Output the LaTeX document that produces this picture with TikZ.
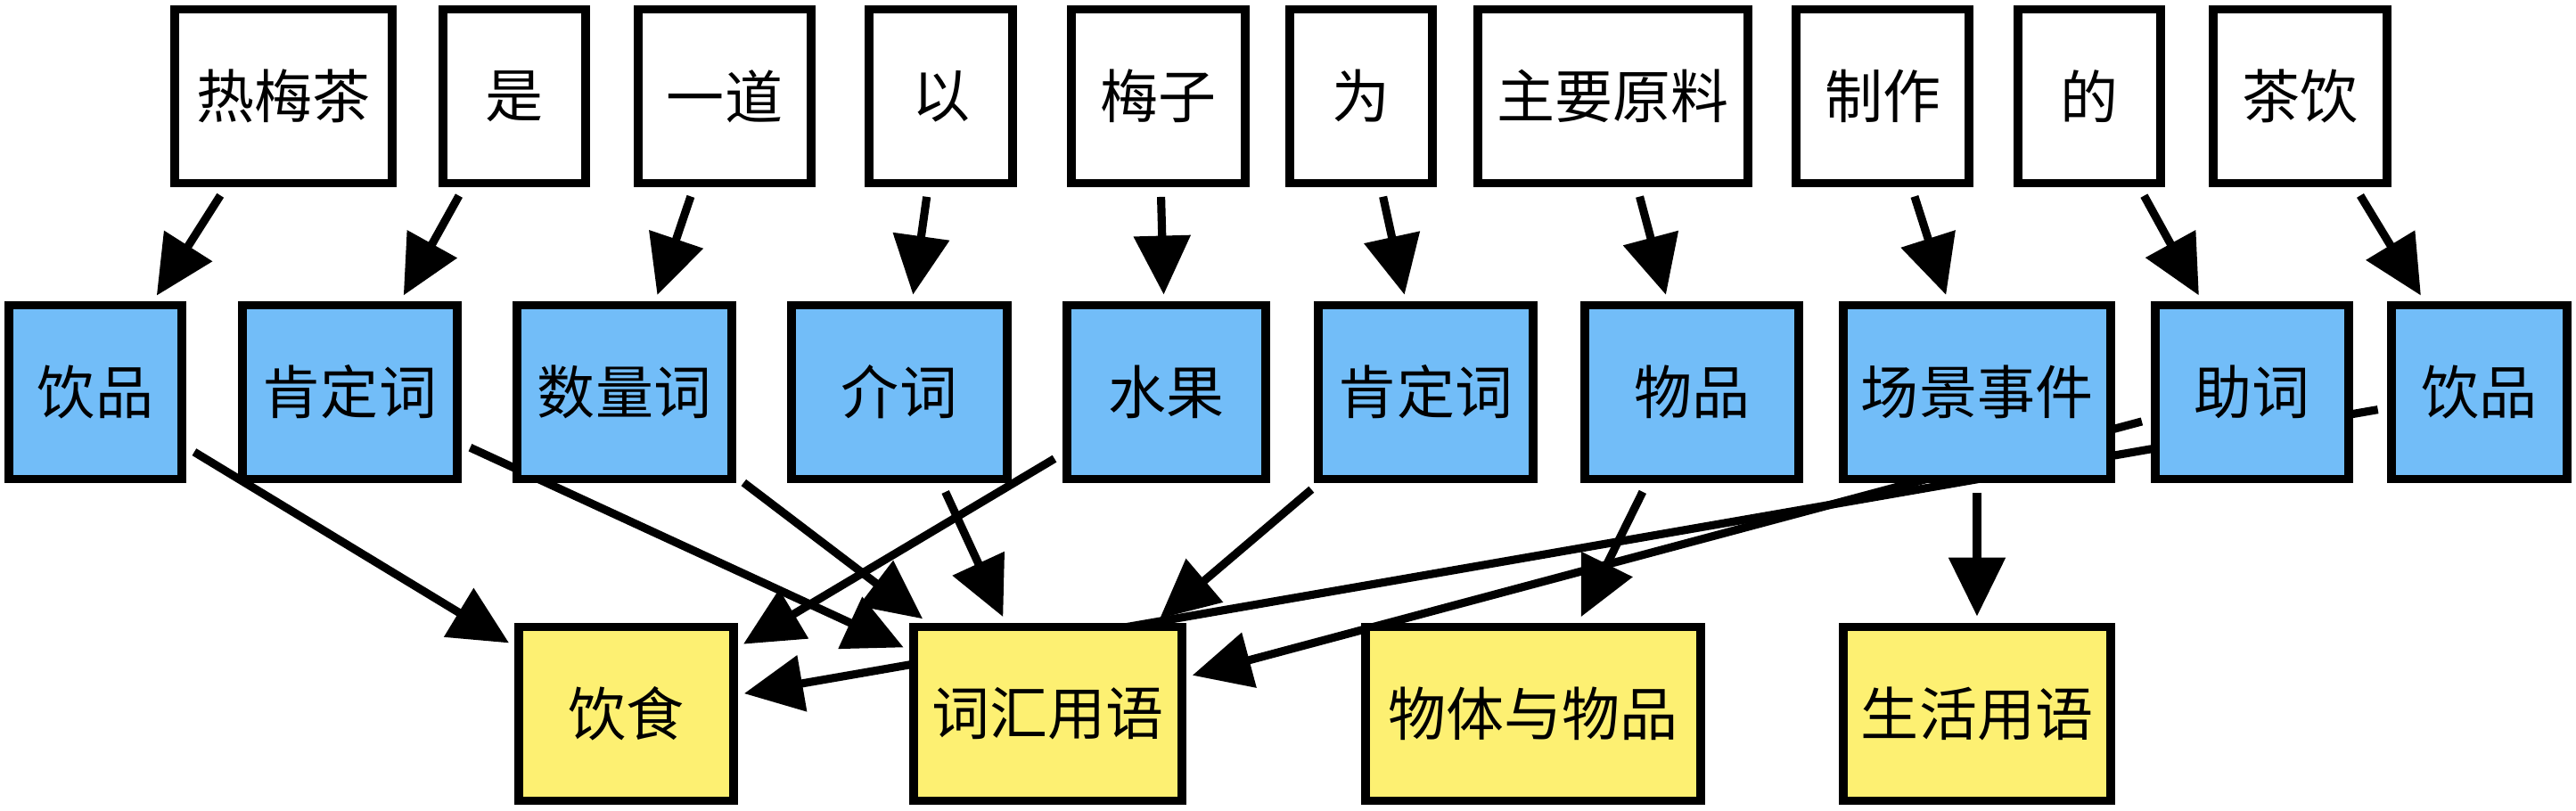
\documentclass[tikz,border=0pt]{standalone}
\usepackage{fontspec}
\newfontfamily\cjk{Noto Sans CJK SC}
\usetikzlibrary{arrows.meta,backgrounds}
\definecolor{tagblue}{RGB}{114,189,248}
\definecolor{catyellow}{RGB}{253,240,114}
\begin{document}
\begin{tikzpicture}[
  box/.style={draw=black, line width=2.8pt, minimum height=1.95cm, inner sep=0pt, font=\cjk\fontsize{18.5}{22}\selectfont},
  word/.style={box, fill=white},
  tag/.style={box, fill=tagblue},
  cat/.style={box, fill=catyellow},
  arr/.style={line width=2.6pt, -{Triangle[length=6.6mm,width=6.2mm]}, shorten <=3pt, shorten >=2pt}
]
\useasboundingbox (0,0) rectangle (28.9,9.1);

% words
\path (3.18,8.02) node[word, minimum width=2.44cm] (w1) {热梅茶};
\path (5.77,8.02) node[word, minimum width=1.60cm] (w2) {是};
\path (8.13,8.02) node[word, minimum width=1.94cm] (w3) {一道};
\path (10.555,8.02) node[word, minimum width=1.61cm] (w4) {以};
\path (12.995,8.02) node[word, minimum width=1.95cm] (w5) {梅子};
\path (15.27,8.02) node[word, minimum width=1.60cm] (w6) {为};
\path (18.095,8.02) node[word, minimum width=3.03cm] (w7) {主要原料};
\path (21.12,8.02) node[word, minimum width=1.94cm] (w8) {制作};
\path (23.44,8.02) node[word, minimum width=1.60cm] (w9) {的};
\path (25.805,8.02) node[word, minimum width=1.95cm] (w10) {茶饮};

% tags
\path (1.07,4.70) node[tag, minimum width=1.94cm] (t1) {饮品};
\path (3.925,4.70) node[tag, minimum width=2.41cm] (t2) {肯定词};
\path (7.005,4.70) node[tag, minimum width=2.41cm] (t3) {数量词};
\path (10.09,4.70) node[tag, minimum width=2.42cm] (t4) {介词};
\path (13.085,4.70) node[tag, minimum width=2.23cm] (t5) {水果};
\path (15.995,4.70) node[tag, minimum width=2.41cm] (t6) {肯定词};
\path (18.98,4.70) node[tag, minimum width=2.40cm] (t7) {物品};
\path (22.18,4.70) node[tag, minimum width=3.00cm] (t8) {场景事件};
\path (25.265,4.70) node[tag, minimum width=2.17cm] (t9) {助词};
\path (27.815,4.70) node[tag, minimum width=1.97cm] (t10) {饮品};

% categories
\path (7.025,1.09) node[cat, minimum width=2.41cm] (c1) {饮食};
\path (11.755,1.09) node[cat, minimum width=3.01cm] (c2) {词汇用语};
\path (17.2,1.09) node[cat, minimum width=3.76cm] (c3) {物体与物品};
\path (22.18,1.09) node[cat, minimum width=3.00cm] (c4) {生活用语};

% arrows
\begin{scope}[on background layer]
\foreach \i in {1,...,10}
  \draw[arr] (w\i) -- (t\i);
\draw[arr] (t1) -- (c1);
\draw[arr] (t2) -- (c2);
\draw[arr] (t3) -- (c2);
\draw[arr] (t4) -- (c2);
\draw[arr] (t5) -- (c1);
\draw[arr] (t6) -- (c2);
\draw[arr] (t7) -- (c3);
\draw[arr] (t8) -- (c4);
\draw[arr] (t9) -- (c2);
\draw[arr] (t10) -- (c1);
\end{scope}
\end{tikzpicture}
\end{document}
